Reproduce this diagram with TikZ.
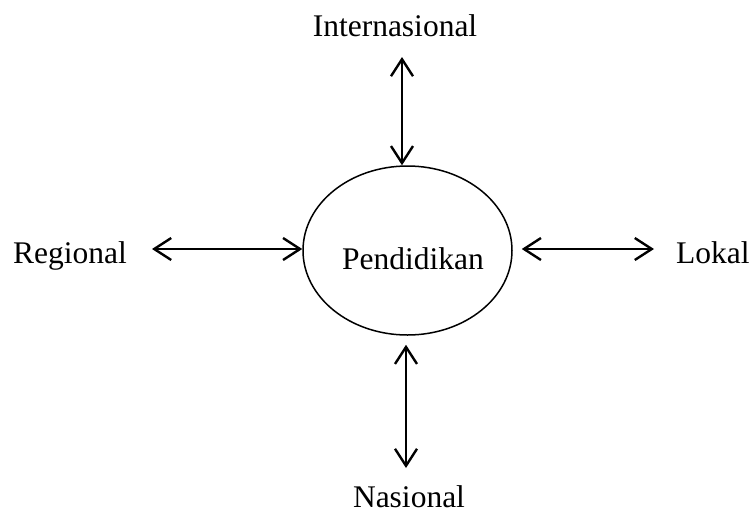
\documentclass[tikz,border=0pt]{standalone}
\usepackage{fontspec}
\setmainfont{Liberation Serif}
\usetikzlibrary{arrows.meta, shapes.geometric}

\begin{document}
\begin{tikzpicture}[x=1pt,y=-1pt,
  lbl/.style={inner sep=0pt, font=\fontsize{31.5}{38}\selectfont},
  biarrow/.style={line width=2.4pt, line cap=round,
    {Straight Barb[length=17pt,width=22pt,line width=2.4pt]}-{Straight Barb[length=17pt,width=22pt,line width=2.4pt]}}]
  \useasboundingbox (0,0) rectangle (753,515);
  % centre
  \node[ellipse, draw, line width=1.5pt, minimum width=209pt, minimum height=169pt] (pend) at (407.5,250.5) {};
  \node[lbl, anchor=base] (pendtxt) at (413,269) {Pendidikan};
  % outer labels
  \node[lbl, anchor=base] (intl) at (395,36) {Internasional};
  \node[lbl, anchor=base west] (reg) at (13,263) {Regional};
  \node[lbl, anchor=base west] (lok) at (676,263) {Lokal};
  \node[lbl, anchor=base] (nas) at (409,507) {Nasional};
  % free arrow ends
  \coordinate (intlend) at (402,57);
  \coordinate (regend) at (152,249);
  \coordinate (lokend) at (654,249);
  \coordinate (nasend) at (406,468);
  \draw[biarrow] (intlend) -- (intlend |- pend.north);
  \draw[biarrow] (regend) -- (regend -| pend.west);
  \draw[biarrow, shorten <=9pt] (lokend -| pend.east) -- (lokend);
  \draw[biarrow, shorten <=9pt] (nasend |- pend.south) -- (nasend);
\end{tikzpicture}
\end{document}
